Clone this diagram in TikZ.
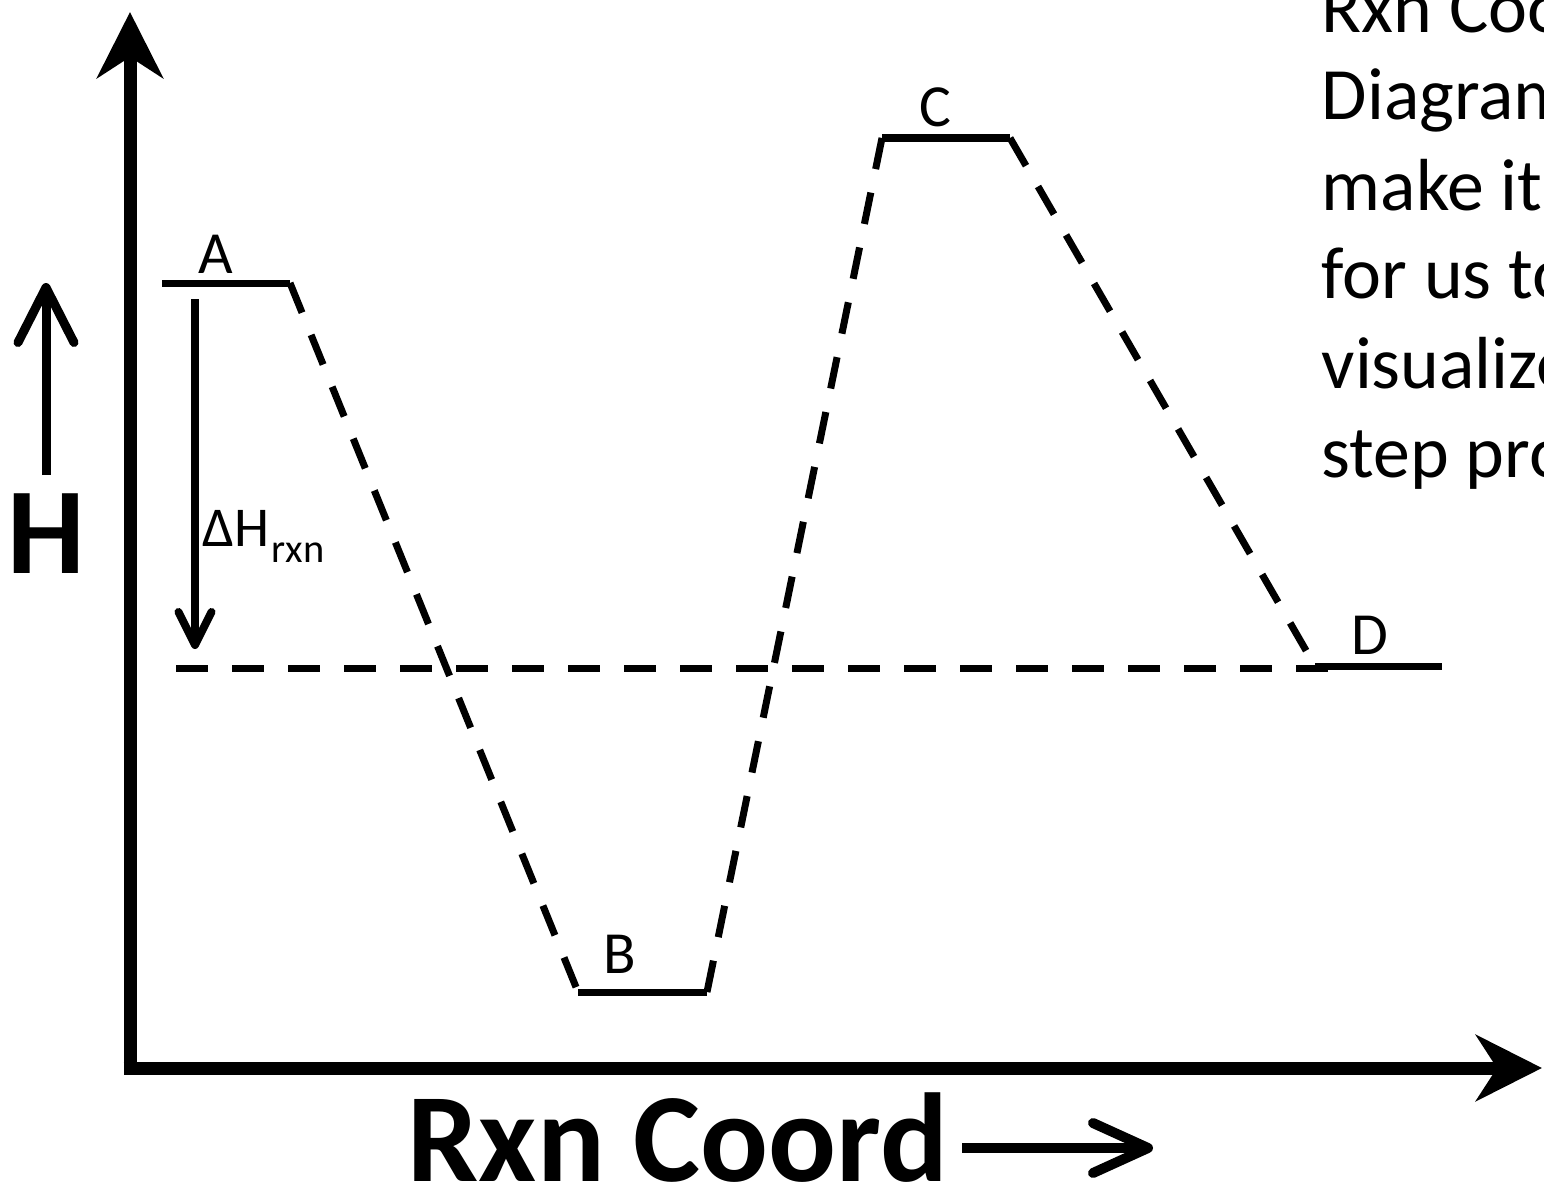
\documentclass[tikz,border=0pt]{standalone}
\usepackage{fontspec}
\setmainfont{Carlito}
\usetikzlibrary{arrows.meta}

\begin{document}
\begin{tikzpicture}[
        axis/.style={line width=0.13cm, -{Stealth[length=0.66cm, width=0.66cm, inset=0.21cm]}},
        level/.style={line width=0.07cm},
        trans/.style={line width=0.07cm, dash pattern=on 0.32cm off 0.24cm},
        barb/.style={-{Straight Barb[round, length=#1, width=#1]}},
        lbl/.style={inner sep=0pt, anchor=base, font=\fontsize{17}{20}\selectfont},
        big/.style={inner sep=0pt, font=\fontsize{35}{40}\selectfont\bfseries},
        note/.style={inner sep=0pt, anchor=base west, font=\fontsize{21}{25}\selectfont},
    ]
        \useasboundingbox (0,0) rectangle (15.44,11.91);
        \clip (0,0) rectangle (15.44,11.91);

        % axes
        \coordinate (O)    at (1.30,1.23);
        \coordinate (ytop) at (1.30,11.79);
        \coordinate (xend) at (15.42,1.23);
        \draw[axis] ([yshift=-0.065cm]O) -- (ytop);
        \draw[axis] ([xshift=-0.065cm]O) -- (xend);

        % energy levels
        \coordinate (A1) at (1.62,9.08);   \coordinate (A2) at (2.90,9.08);
        \coordinate (B1) at (5.78,1.99);   \coordinate (B2) at (7.07,1.99);
        \coordinate (C1) at (8.82,10.53);  \coordinate (C2) at (10.10,10.53);
        \coordinate (D1) at (13.15,5.25);  \coordinate (D2) at (14.42,5.25);
        \draw[level] (A1) -- (A2);
        \draw[level] (B1) -- (B2);
        \draw[level] (C1) -- (C2);
        \draw[level] (D1) -- (D2);
        \node[lbl] (labA) at (2.155,9.18)  {A};
        \node[lbl] (labB) at (6.20,2.18)   {B};
        \node[lbl] (labC) at (9.35,10.64)  {C};
        \node[lbl] (labD) at (13.70,5.37)  {D};

        % transitions
        \draw[trans] (A2) -- (B1);
        \draw[trans] (B2) -- (C1);
        \draw[trans] (C2) -- (D1);
        \coordinate (ref1) at (1.76,5.23);
        \coordinate (ref2) at (13.28,5.23);
        \draw[trans] (ref1) -- (ref2);

        % enthalpy change
        \coordinate (dh1) at (1.95,8.92);
        \coordinate (dh2) at (1.95,5.42);
        \draw[line width=0.08cm, barb=0.33cm] (dh1) -- (dh2);
        \node[inner sep=0pt, anchor=base west, font=\fontsize{16}{19}\selectfont] (dH) at (2.02,6.45)
            {ΔH\kern0.02cm\raisebox{-4.8pt}{\fontsize{11.5}{13}\selectfont rxn}};

        % axis labels
        \node[big, anchor=base] (H) at (0.46,6.18) {H};
        \coordinate (h1) at (0.46,7.16);
        \coordinate (h2) at (0.46,9.08);
        \draw[line width=0.09cm, -{Straight Barb[round, length=0.55cm, width=0.56cm]}] (h1) -- (h2);
        \node[big, anchor=base west, font=\fontsize{36}{40}\selectfont\bfseries] (xlab) at (4.07,0.10) {Rxn Coord};
        \coordinate (r1) at (9.62,0.43);
        \coordinate (r2) at (11.53,0.43);
        \draw[line width=0.10cm, -{Straight Barb[round, length=0.55cm, width=0.50cm]}] (r1) -- (r2);

        % side note
        \node[note] (n1) at (13.21,11.59) {Rxn Coo};
        \node[note] (n2) at (13.21,10.71) {Diagram};
        \node[note] (n3) at (13.21,9.81)  {make it};
        \node[note] (n4) at (13.21,8.93)  {for us to};
        \node[note] (n5) at (13.21,8.03)  {visualize};
        \node[note] (n6) at (13.21,7.14)  {step pro};
    \end{tikzpicture}
\end{document}
